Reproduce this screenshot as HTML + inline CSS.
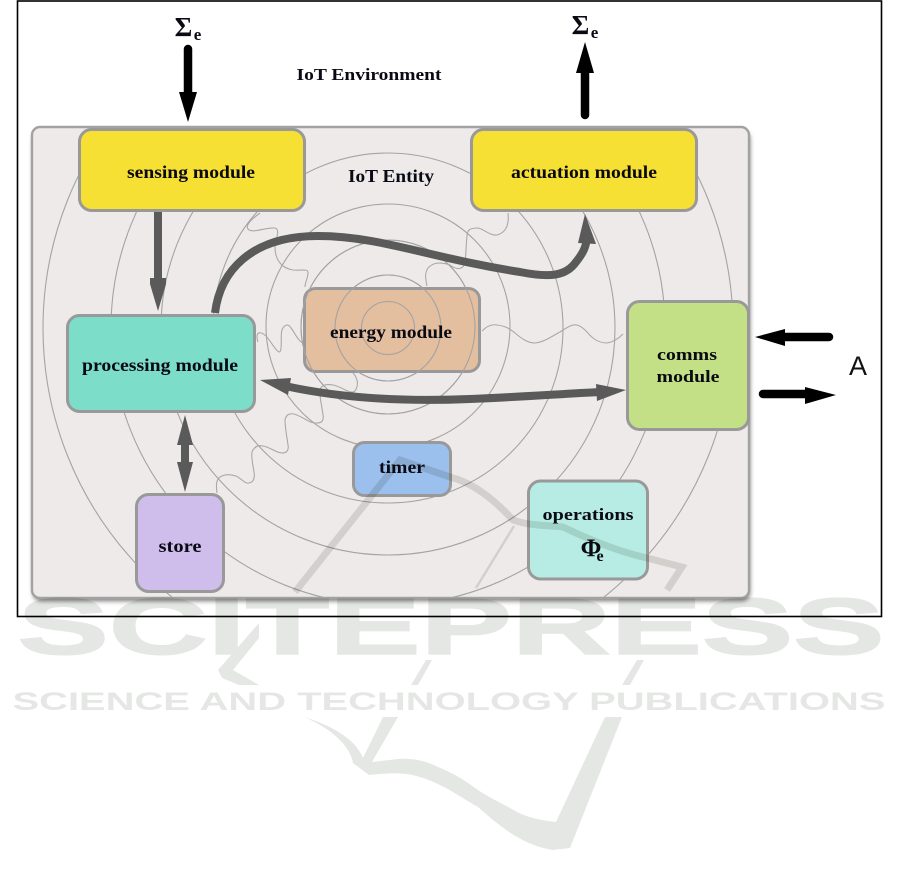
<!DOCTYPE html>
<html><head><meta charset="utf-8"><style>
html,body{margin:0;padding:0;background:#fff;width:901px;height:885px;overflow:hidden}
svg{display:block;filter:blur(0.35px)}
.t{font-family:"Liberation Serif",serif;font-weight:bold;fill:#0a0a14;text-anchor:middle}
.ring{fill:none;stroke:#a3a3a3;stroke-width:1.1}
.wave{fill:none;stroke:#a8a8a8;stroke-width:1.1}
.box{stroke:#999;stroke-width:3}
.a{fill:none;stroke:#5a5a5a;stroke-width:8}
.wm{fill:#e5e7e5}
</style></head><body>
<svg width="901" height="885" viewBox="0 0 901 885" xmlns="http://www.w3.org/2000/svg">
<defs>
<clipPath id="p"><rect x="32" y="127" width="717" height="471" rx="8"/></clipPath>
<filter id="s" x="-5%" y="-5%" width="110%" height="112%"><feGaussianBlur stdDeviation="2.5"/></filter>
</defs>
<rect x="17.5" y="1" width="864" height="615.5" fill="#fff" stroke="#000" stroke-width="1.6"/>

<rect x="33" y="131" width="717" height="470" rx="8" fill="#777" filter="url(#s)"/>
<rect x="32" y="127" width="717" height="471" rx="8" fill="#efeaea" stroke="#a2a2a2" stroke-width="2.4"/>
<g clip-path="url(#p)">
<circle class="ring" cx="388" cy="328" r="26.5"/>
<circle class="ring" cx="388" cy="328" r="53"/>
<circle class="ring" cx="388" cy="327" r="87"/>
<circle class="ring" cx="388" cy="326" r="122"/>
<circle class="ring" cx="388" cy="328" r="175"/>
<circle class="ring" cx="388" cy="328" r="227"/>
<circle class="ring" cx="388" cy="328" r="277"/>
<circle class="ring" cx="388" cy="328" r="345"/>
</g>

<rect class="box" x="79.5" y="129.5" width="225" height="81" rx="12" fill="#f7e034"/>
<rect class="box" x="471.5" y="129.5" width="225" height="81" rx="12" fill="#f7e034"/>
<rect class="box" x="304.5" y="288.5" width="175" height="83" rx="11" fill="#e3bfa0"/>
<g clip-path="url(#p)">
<circle class="ring" cx="388" cy="328" r="26.5"/>
<circle class="ring" cx="388" cy="328" r="53"/>
<circle class="ring" cx="388" cy="327" r="87"/>
</g>
<rect class="box" x="67.5" y="315.5" width="187" height="96" rx="12" fill="#7cddc9"/>
<rect class="box" x="627.5" y="301.5" width="121" height="128" rx="12" fill="#c3e086"/>
<rect class="box" x="353.5" y="442.5" width="97" height="53" rx="11" fill="#9bc0ee"/>
<rect class="box" x="136.5" y="494.5" width="87" height="97" rx="12" fill="#cfbdeb"/>
<rect class="box" x="528.5" y="481" width="119" height="98" rx="12" fill="#b7ece4"/>

<path class="wave" d="M260,213 C252,219 245,225 248,229 C252,234 266,227 275,228 C281,230 275,240 275,247 C275,258 280,268 293,270 C302,271 308,268 308,273 C308,278 305,282 305,287"/>
<path class="wave" d="M508,213 C509,222 508,232 497,235 C490,236 484,229 478,228 C470,228 467,230 467,236 C466,245 466,255 465,263 C463,270 456,270 450,265 C442,262 433,262 428,268 C424,274 426,280 427,286"/>
<path class="wave" d="M258,342 C256,336 257,332 261,333 C268,334 274,350 279,352 C283,352 280,335 282,330 C284,325 288,323 291,328 C295,333 298,341 303,343"/>
<path class="wave" d="M482,331 C487,326 492,324 497,325 C506,326 510,329 515,333 C522,339 528,343 535,343 C545,342 552,336 560,332 C566,328 572,324 577,325 C584,327 588,334 593,338 C598,342 602,343 607,343 C614,342 619,338 623,334"/>
<path class="wave" d="M217,493 C216,485 216,480 220,477 C225,474 230,474 236,476 C242,479 245,484 249,483 C254,482 255,478 254,472 C253,465 251,458 252,452 C254,447 258,445 263,446 C270,447 276,453 282,453 C287,453 289,450 288,445 C287,437 285,428 285,420 C286,415 289,413 294,414 C302,416 310,424 317,423 C322,423 324,420 323,415 C322,406 319,396 320,389 C322,385 327,384 333,385 C340,386 348,393 353,392 C357,391 358,384 357,380 C356,377 355,375 353,373"/>

<path class="a" d="M158,212 V284" stroke-width="8"/>
<polygon points="158,311 150,284 150,278 166,278 166,284" fill="#5a5a5a"/>
<path class="a" d="M215,313 C220,272 250,236 318,236 C380,236 430,258 520,272 C550,278 566,276 576,262 C584,252 586,246 587,238" stroke-width="6.5"/>
<polygon points="585,214 596,244 578,243" fill="#5a5a5a"/>
<path class="a" d="M285,386 C340,398 400,402 470,399 C520,397 560,394 600,392" stroke-width="6.5"/>
<polygon points="260,380 291,378 288,395" fill="#5a5a5a"/>
<polygon points="626,390 596,384 597,401" fill="#5a5a5a"/>
<path class="a" d="M185,440 V470" stroke-width="8"/>
<polygon points="185,415 193,445 177,445" fill="#5a5a5a"/>
<polygon points="185,492 193,462 177,462" fill="#5a5a5a"/>

<path d="M188,49 V96" stroke="#000" stroke-width="8.5" stroke-linecap="round" fill="none"/>
<polygon points="188,122 179,92 197,92" fill="#000"/>
<path d="M585,115 V70" stroke="#000" stroke-width="8.5" stroke-linecap="round" fill="none"/>
<polygon points="585,42 576,73 594,73" fill="#000"/>
<path d="M782,337 H829" stroke="#000" stroke-width="8.5" stroke-linecap="round" fill="none"/>
<polygon points="755,337 785,329 785,346" fill="#000"/>
<path d="M763,394 H810" stroke="#000" stroke-width="8.5" stroke-linecap="round" fill="none"/>
<polygon points="836,395 805,387 805,404" fill="#000"/>

<text class="t" x="191" y="178" font-size="17.5" textLength="128" lengthAdjust="spacingAndGlyphs">sensing module</text>
<text class="t" x="584" y="178" font-size="17.5" textLength="146" lengthAdjust="spacingAndGlyphs">actuation module</text>
<text class="t" x="160" y="371" font-size="17.5" textLength="156" lengthAdjust="spacingAndGlyphs">processing module</text>
<text class="t" x="391" y="338" font-size="17.5" textLength="122" lengthAdjust="spacingAndGlyphs">energy module</text>
<text class="t" x="687" y="360" font-size="17" textLength="60" lengthAdjust="spacingAndGlyphs">comms</text>
<text class="t" x="688" y="382" font-size="17" textLength="63" lengthAdjust="spacingAndGlyphs">module</text>
<text class="t" x="402" y="473" font-size="18" textLength="46" lengthAdjust="spacingAndGlyphs">timer</text>
<text class="t" x="180" y="552" font-size="18" textLength="43" lengthAdjust="spacingAndGlyphs">store</text>
<text class="t" x="588" y="520" font-size="17" textLength="91" lengthAdjust="spacingAndGlyphs">operations</text>
<text class="t" x="591" y="556" font-size="25">Φ</text>
<text class="t" x="600" y="561" font-size="16">e</text>
<text class="t" x="369" y="80" font-size="17" textLength="145" lengthAdjust="spacingAndGlyphs">IoT Environment</text>
<text class="t" x="391" y="182" font-size="17.5" textLength="86" lengthAdjust="spacingAndGlyphs">IoT Entity</text>
<text class="t" x="183.5" y="36" font-size="27">Σ</text>
<text class="t" x="197.5" y="40" font-size="17">e</text>
<text class="t" x="580.5" y="34" font-size="27">Σ</text>
<text class="t" x="594.5" y="38" font-size="17">e</text>
<text x="858" y="375" font-family="'Liberation Sans',sans-serif" font-size="27" text-anchor="middle" fill="#111">A</text>

<g style="mix-blend-mode:multiply">
<text class="wm" x="451" y="654" font-size="80" font-weight="bold" text-anchor="middle" textLength="867" lengthAdjust="spacingAndGlyphs" stroke="#e5e7e5" stroke-width="1.5" style="font-family:'Liberation Sans',sans-serif">SCITEPRESS</text>
<text class="wm" x="449" y="710" font-size="25" font-weight="bold" text-anchor="middle" textLength="873" lengthAdjust="spacingAndGlyphs" style="font-family:'Liberation Sans',sans-serif">SCIENCE AND TECHNOLOGY PUBLICATIONS</text>
<path class="wm" d="M304,717 C330,728 350,745 353,763 L369,775 C390,773 405,772 420,777 C445,785 460,797 478,807 C495,822 520,845 553,850 L570,848 L622,717 L605,717 L556,822 C540,820 530,818 519,813 C505,805 490,798 478,790 C462,778 450,772 438,767 C425,760 410,758 398,759 L372,762 L398,717 L383,717 L363,758 C355,738 330,725 304,717 Z"/>
<path class="wm" d="M259,623 L218,670 L222,678 L239,685 L259,685 L233,670 L259,638 Z"/>
<polygon class="wm" points="444,640 438,640 428,653 434,653"/>
<polygon class="wm" points="432,660 426,660 411,685 418,685"/>
<polygon class="wm" points="644,660 637,660 622,685 630,685"/>
<path d="M295,592 L400,460 L450,477 C470,482 490,495 513,520 C530,526 545,525 563,527 C590,540 620,552 647,558 L682,567 L667,590" fill="none" stroke="#e2e2df" stroke-width="7"/>
<path d="M476,588 L514,526" fill="none" stroke="#e2e2df" stroke-width="2.5"/>
</g>
</svg>
</body></html>
